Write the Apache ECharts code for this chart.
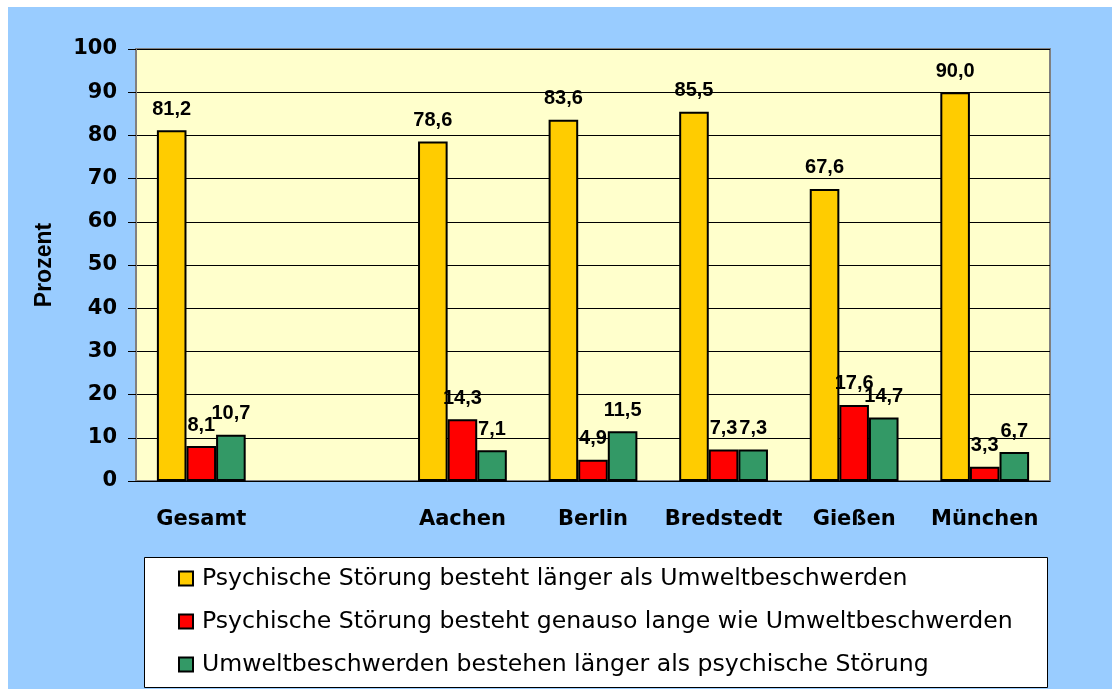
<!DOCTYPE html>
<html>
<head>
<meta charset="utf-8">
<script src="https://cdn.jsdelivr.net/npm/echarts@6/dist/echarts.min.js"></script>
<style>
  html, body { margin: 0; padding: 0; background: #fff; }
  #chart { position: absolute; left: 8px; top: 7px; width: 1104px; height: 682px; }
</style>
</head>
<body>
<div id="chart"></div>
<script>
const categories = ['Gesamt', '', 'Aachen', 'Berlin', 'Bredstedt', 'Gießen', 'München'];
const laenger = [81.2, null, 78.6, 83.6, 85.5, 67.6, 90.0];
const gleich = [8.1, null, 14.3, 4.9, 7.3, 17.6, 3.3];
const umwelt = [10.7, null, 7.1, 11.5, 7.3, 14.7, 6.7];
const seriesNames = [
  'Psychische Störung besteht länger als Umweltbeschwerden',
  'Psychische Störung besteht genauso lange wie Umweltbeschwerden',
  'Umweltbeschwerden bestehen länger als psychische Störung'
];
const colors = ['#FFCC00', '#FF0000', '#339966'];

const chart = echarts.init(document.getElementById('chart'));

function barSeries(name, data, color) {
  return {
    name,
    type: 'bar',
    data,
    barGap: '0%',
    barCategoryGap: '32%',
    itemStyle: { color, borderColor: '#000', borderWidth: 2 },
    label: {
      show: true,
      position: 'top',
      distance: 11,
      color: '#000',
      fontFamily: 'Liberation Sans',
      fontWeight: 'bold',
      fontSize: 20,
      formatter: p => p.value == null ? '' : p.value.toFixed(1).replace('.', ',')
    }
  };
}

chart.setOption({
  backgroundColor: '#99CCFF',
  animation: false,
  grid: {
    left: 128, top: 42, right: 62, bottom: 208,
    show: true,
    backgroundColor: '#FFFFCC',
    borderColor: '#808080',
    borderWidth: 2
  },
  // legend frame
  graphic: [{
    type: 'rect',
    left: 136, top: 550,
    shape: { width: 903, height: 130 },
    style: { fill: '#fff', stroke: '#000', lineWidth: 1 },
    z: 1
  }],
  legend: {
    orient: 'vertical',
    left: 136, top: 550,
    padding: [8, 30, 11, 34],
    icon: 'rect',
    itemWidth: 14,
    itemHeight: 14,
    itemGap: 16,
    textStyle: {
      fontFamily: 'DejaVu Sans',
      fontSize: 23.6,
      lineHeight: 27,
      color: '#000',
      padding: [0, 0, 0, 4]
    },
    data: seriesNames
  },
  xAxis: {
    type: 'category',
    data: categories,
    axisLine: { lineStyle: { color: '#000', width: 1 } },
    axisTick: { length: 8, lineStyle: { color: '#000' } },
    axisLabel: {
      interval: 0,
      margin: 28,
      color: '#000',
      fontFamily: 'DejaVu Sans',
      fontWeight: 'bold',
      fontSize: 21
    }
  },
  yAxis: {
    type: 'value',
    min: 0, max: 100, interval: 10,
    name: 'Prozent',
    nameLocation: 'middle',
    nameGap: 80,
    nameTextStyle: {
      color: '#000',
      fontFamily: 'Liberation Sans',
      fontWeight: 'bold',
      fontSize: 23
    },
    axisLine: { show: true, lineStyle: { color: '#808080', width: 2 } },
    axisTick: { show: true, length: 8, lineStyle: { color: '#000' } },
    axisLabel: {
      margin: 19,
      color: '#000',
      fontFamily: 'DejaVu Sans',
      fontWeight: 'bold',
      fontSize: 21
    },
    splitLine: { lineStyle: { color: '#000', width: 1 } }
  },
  series: [
    barSeries(seriesNames[0], laenger, colors[0]),
    barSeries(seriesNames[1], gleich, colors[1]),
    barSeries(seriesNames[2], umwelt, colors[2])
  ]
});
</script>
</body>
</html>
